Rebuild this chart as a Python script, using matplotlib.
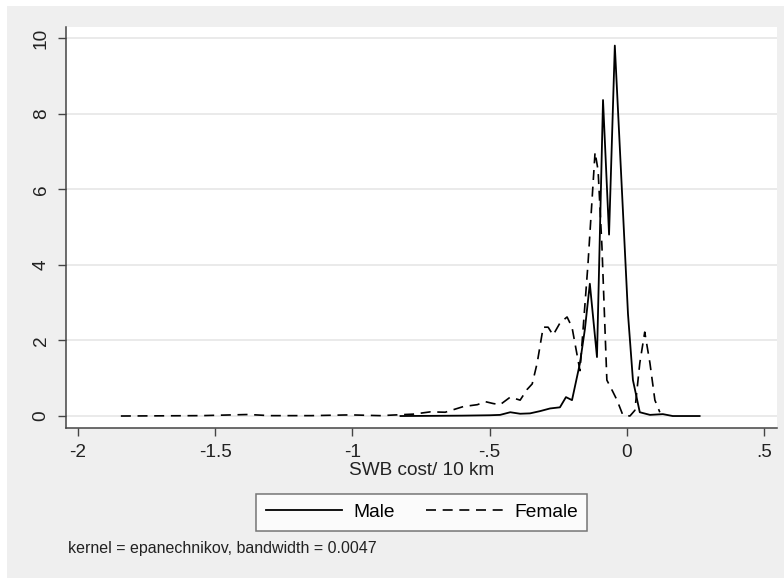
#!/usr/bin/env python

import matplotlib
matplotlib.use("Agg")
import matplotlib.pyplot as plt
from matplotlib.patches import Rectangle

plt.rcParams['font.family'] = ['Liberation Sans', 'DejaVu Sans']

# kernel density estimates
male_x = [-0.825, -0.70, -0.60, -0.50, -0.462, -0.425, -0.389, -0.353, -0.316,
          -0.280, -0.244, -0.222, -0.200, -0.171, -0.153, -0.135, -0.109,
          -0.087, -0.065, -0.044, 0.004, 0.022, 0.047, 0.084, 0.131, 0.167, 0.265]
male_y = [0.0, 0.005, 0.01, 0.02, 0.03, 0.10, 0.06, 0.07, 0.13,
          0.20, 0.23, 0.50, 0.42, 1.4, 2.3, 3.5, 1.56,
          8.36, 4.8, 9.8, 2.7, 0.95, 0.1, 0.03, 0.05, 0.0, 0.0]

female_x = [-1.844, -1.70, -1.55, -1.38, -1.30, -1.15, -1.007, -0.90, -0.778,
            -0.716, -0.662, -0.596, -0.545, -0.516, -0.487, -0.462, -0.425,
            -0.389, -0.364, -0.345, -0.327, -0.305, -0.287, -0.269, -0.244,
            -0.218, -0.200, -0.171, -0.142, -0.116, -0.105, -0.091, -0.073,
            -0.051, -0.036, -0.015, 0.011, 0.029, 0.047, 0.065, 0.084, 0.102, 0.120]
female_y = [0.0, 0.005, 0.01, 0.04, 0.01, 0.01, 0.03, 0.01, 0.05,
            0.11, 0.10, 0.25, 0.30, 0.38, 0.33, 0.30, 0.50,
            0.42, 0.70, 0.85, 1.4, 2.35, 2.35, 2.14, 2.46,
            2.62, 2.35, 1.2, 4.0, 6.98, 6.5, 4.5, 0.95,
            0.64, 0.42, 0.03, 0.0, 0.15, 1.4, 2.22, 1.4, 0.42, 0.1]

x_ticks = [-2, -1.5, -1, -0.5, 0, 0.5]
x_tick_labels = ["-2", "-1.5", "-1", "-.5", "0", ".5"]
y_ticks = [0, 2, 4, 6, 8, 10]
y_tick_labels = ["0", "2", "4", "6", "8", "10"]

W, H = 784, 578
fig = plt.figure(figsize=(W / 100, H / 100), dpi=100, facecolor='white')
fig.patches.append(Rectangle((7 / W, 0), 1 - 7 / W, 1 - 6 / H,
                             transform=fig.transFigure, facecolor='#efefef',
                             edgecolor='none', zorder=-10))

ax = fig.add_axes([65.7 / W, 1 - 428 / H, (777 - 65.7) / W, (428 - 26.7) / H])
ax.set_facecolor('white')

ax.plot(male_x, male_y, color='black', linewidth=1.3, label='Male')
ax.plot(female_x, female_y, color='black', linewidth=1.2,
        linestyle=(0, (6, 4)), label='Female')

ax.set_xlim(-2.045, 0.547)
ax.set_ylim(-0.317, 10.3)
ax.set_xticks(x_ticks)
ax.set_xticklabels(x_tick_labels)
ax.set_yticks(y_ticks)
ax.set_yticklabels(y_tick_labels, rotation=90, va='center')

ax.grid(axis='y', color='#e6e6e6', linewidth=1.2)
ax.set_axisbelow(True)
for side in ['top', 'right']:
    ax.spines[side].set_visible(False)
for side in ['left', 'bottom']:
    ax.spines[side].set_color('#444444')
    ax.spines[side].set_linewidth(1.1)

ax.tick_params(axis='both', colors='#444444', labelcolor='#222222',
               labelsize=13.7, length=5.5, width=1.0, pad=6)

ax.set_xlabel("SWB cost/ 10 km", fontsize=13.7, color='#222222', labelpad=1)

leg = fig.legend(loc='center', bbox_to_anchor=(421.7 / W, 1 - 512.3 / H),
                 ncol=2, frameon=True, fancybox=False, fontsize=13.8,
                 handlelength=4.0, handletextpad=0.6, columnspacing=1.6,
                 borderpad=0.5, borderaxespad=0)
leg.get_frame().set_edgecolor('#555555')
leg.get_frame().set_linewidth(1.1)

fig.text(68 / W, 1 - 549 / H, "kernel = epanechnikov, bandwidth = 0.0047",
         fontsize=11.5, color='#222222', va='center', ha='left')

fig.savefig("out.png", dpi=100, facecolor=fig.get_facecolor())
